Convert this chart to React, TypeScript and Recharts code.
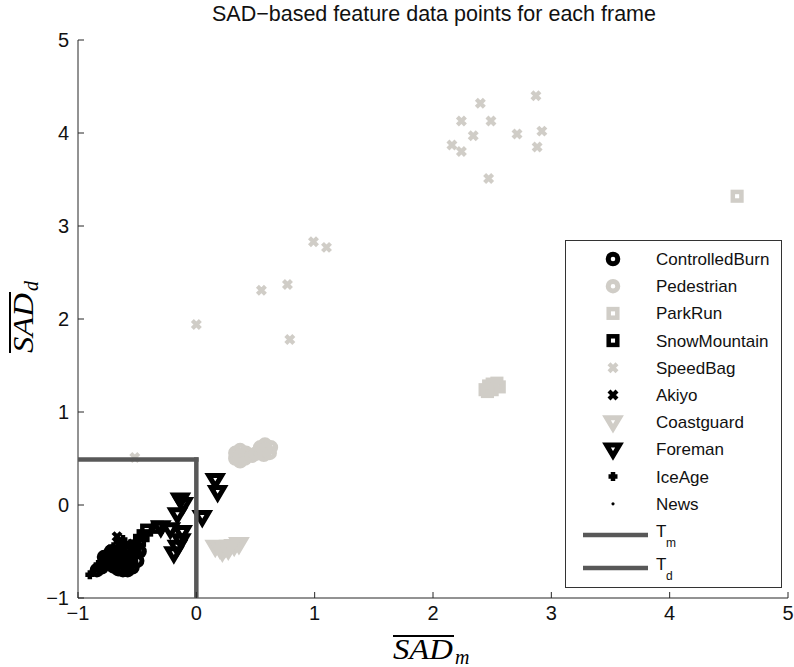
import { ScatterChart, Scatter, XAxis, YAxis } from "recharts";

const xTicks = [-1, 0, 1, 2, 3, 4, 5];
const yTicks = [-1, 0, 1, 2, 3, 4, 5];

const controlledBurn = [
  { x: -0.84, y: -0.7 }, { x: -0.8, y: -0.67 }, { x: -0.76, y: -0.62 }, { x: -0.72, y: -0.62 },
  { x: -0.7, y: -0.66 }, { x: -0.66, y: -0.69 }, { x: -0.62, y: -0.7 }, { x: -0.58, y: -0.7 },
  { x: -0.54, y: -0.67 }, { x: -0.5, y: -0.6 }, { x: -0.52, y: -0.52 }, { x: -0.56, y: -0.48 },
  { x: -0.6, y: -0.47 }, { x: -0.64, y: -0.5 }, { x: -0.68, y: -0.55 }, { x: -0.62, y: -0.6 },
  { x: -0.57, y: -0.58 }, { x: -0.65, y: -0.58 }, { x: -0.6, y: -0.64 }, { x: -0.78, y: -0.56 },
  { x: -0.72, y: -0.5 }, { x: -0.55, y: -0.62 }, { x: -0.48, y: -0.5 },
];
const pedestrian = [
  { x: 0.33, y: 0.5 }, { x: 0.37, y: 0.47 }, { x: 0.41, y: 0.5 }, { x: 0.42, y: 0.56 },
  { x: 0.37, y: 0.59 }, { x: 0.33, y: 0.56 }, { x: 0.37, y: 0.53 }, { x: 0.53, y: 0.57 },
  { x: 0.57, y: 0.54 }, { x: 0.62, y: 0.56 }, { x: 0.63, y: 0.62 }, { x: 0.58, y: 0.65 },
  { x: 0.54, y: 0.62 }, { x: 0.58, y: 0.6 }, { x: 0.47, y: 0.53 }, { x: 0.5, y: 0.55 },
];
const parkRun = [
  { x: 2.44, y: 1.24 }, { x: 2.47, y: 1.28 }, { x: 2.5, y: 1.3 }, { x: 2.54, y: 1.31 },
  { x: 2.56, y: 1.27 }, { x: 2.5, y: 1.24 }, { x: 2.46, y: 1.22 }, { x: 4.57, y: 3.32 },
];
const snowMountain = [
  { x: -0.42, y: -0.27 }, { x: -0.33, y: -0.24 }, { x: -0.48, y: -0.38 },
  { x: -0.52, y: -0.44 }, { x: -0.45, y: -0.33 },
];
const speedBag = [
  { x: 0, y: 1.94 }, { x: 0.55, y: 2.31 }, { x: 0.77, y: 2.37 }, { x: 0.79, y: 1.78 },
  { x: 0.99, y: 2.83 }, { x: 1.1, y: 2.77 }, { x: 2.16, y: 3.87 }, { x: 2.24, y: 3.8 },
  { x: 2.4, y: 4.32 }, { x: 2.24, y: 4.13 }, { x: 2.34, y: 3.97 }, { x: 2.49, y: 4.13 },
  { x: 2.47, y: 3.51 }, { x: 2.71, y: 3.99 }, { x: 2.87, y: 4.4 }, { x: 2.92, y: 4.02 },
  { x: 2.88, y: 3.85 }, { x: -0.52, y: 0.51 },
];
const akiyo = [{ x: -0.67, y: -0.34 }, { x: -0.72, y: -0.48 }, { x: -0.58, y: -0.42 }];
const coastguard = [
  { x: 0.16, y: -0.45 }, { x: 0.2, y: -0.47 }, { x: 0.24, y: -0.46 }, { x: 0.28, y: -0.45 },
  { x: 0.32, y: -0.44 }, { x: 0.36, y: -0.42 }, { x: 0.22, y: -0.5 }, { x: 0.27, y: -0.48 },
];
const foreman = [
  { x: -0.135, y: 0.06 }, { x: -0.11, y: 0.01 }, { x: -0.16, y: -0.1 }, { x: 0.05, y: -0.13 },
  { x: 0.16, y: 0.27 }, { x: 0.18, y: 0.14 }, { x: -0.3, y: -0.24 }, { x: -0.22, y: -0.26 },
  { x: -0.12, y: -0.29 }, { x: -0.16, y: -0.45 }, { x: -0.19, y: -0.52 }, { x: -0.13, y: -0.38 },
];
const iceAge = [
  { x: -0.9, y: -0.75 }, { x: -0.86, y: -0.7 }, { x: -0.83, y: -0.64 }, { x: -0.79, y: -0.58 },
  { x: -0.75, y: -0.53 }, { x: -0.7, y: -0.45 }, { x: -0.66, y: -0.4 }, { x: -0.62, y: -0.37 },
];
const news = [{ x: -0.62, y: -0.5 }, { x: -0.4, y: -0.3 }, { x: -0.15, y: -0.05 }];

const tmLine = [{ x: -1, y: 0.49 }, { x: 0, y: 0.49 }];
const tdLine = [{ x: 0, y: -1 }, { x: 0, y: 0.49 }];

const BLACK = "#000000";
const GRAY = "#d0cdc7";
const LINE = "#585858";
const AXIS = "#262626";
const SANS = "'Liberation Sans', Arial, sans-serif";
const SERIF = "'Liberation Serif', 'Times New Roman', serif";

type Kind = "circle" | "square" | "x" | "tri" | "plus" | "dot";

const series: { name: string; data: { x: number; y: number }[]; kind: Kind; color: string }[] = [
  { name: "ControlledBurn", data: controlledBurn, kind: "circle", color: BLACK },
  { name: "Pedestrian", data: pedestrian, kind: "circle", color: GRAY },
  { name: "ParkRun", data: parkRun, kind: "square", color: GRAY },
  { name: "SnowMountain", data: snowMountain, kind: "square", color: BLACK },
  { name: "SpeedBag", data: speedBag, kind: "x", color: GRAY },
  { name: "Akiyo", data: akiyo, kind: "x", color: BLACK },
  { name: "Coastguard", data: coastguard, kind: "tri", color: GRAY },
  { name: "Foreman", data: foreman, kind: "tri", color: BLACK },
  { name: "IceAge", data: iceAge, kind: "plus", color: BLACK },
  { name: "News", data: news, kind: "dot", color: BLACK },
];

function Glyph({ kind, color, cx, cy }: { kind: Kind; color: string; cx: number; cy: number }) {
  if (kind === "circle")
    return <circle cx={cx} cy={cy} r={4.8} fill="none" stroke={color} strokeWidth={5} />;
  if (kind === "square")
    return <rect x={cx - 4.3} y={cy - 4.3} width={8.6} height={8.6} fill="none" stroke={color} strokeWidth={4.5} />;
  if (kind === "x")
    return (
      <path
        d={`M${cx - 4},${cy - 4}L${cx + 4},${cy + 4}M${cx + 4},${cy - 4}L${cx - 4},${cy + 4}`}
        stroke={color}
        strokeWidth={4.2}
      />
    );
  if (kind === "tri")
    return (
      <polygon
        points={`${cx - 6.5},${cy - 4.5} ${cx + 6.5},${cy - 4.5} ${cx},${cy + 6.5}`}
        fill="none"
        stroke={color}
        strokeWidth={5}
        strokeLinejoin="miter"
      />
    );
  if (kind === "plus")
    return (
      <path
        d={`M${cx - 4.5},${cy}L${cx + 4.5},${cy}M${cx},${cy - 4.5}L${cx},${cy + 4.5}`}
        stroke={color}
        strokeWidth={4.5}
      />
    );
  return <circle cx={cx} cy={cy} r={1.6} fill={color} />;
}

const fmt = (v: number) => String(v).replace("-", "\u2212");

const XTick = (props: any) => {
  const { x, y, payload } = props;
  return (
    <g>
      <line x1={x} x2={x} y1={y} y2={y - 6} stroke={AXIS} />
      <text x={x} y={y + 22} textAnchor="middle" fontFamily={SANS} fontSize={20} fill="#111">
        {fmt(payload.value)}
      </text>
    </g>
  );
};

const YTick = (props: any) => {
  const { x, y, payload } = props;
  return (
    <g>
      <line x1={x} x2={x + 6} y1={y} y2={y} stroke={AXIS} />
      <text x={x - 9} y={y + 7} textAnchor="end" fontFamily={SANS} fontSize={20} fill="#111">
        {fmt(payload.value)}
      </text>
    </g>
  );
};

const LegendBox = () => {
  const rowY = (i: number) => 19 + i * 27.2;
  return (
    <svg width={217} height={348} style={{ position: "absolute", left: 565, top: 240 }}>
      <rect x={0.5} y={0.5} width={216} height={347} fill="#fff" stroke="#333" />
      {series.map((s, i) => (
        <g key={s.name}>
          <Glyph kind={s.kind} color={s.color} cx={48} cy={rowY(i)} />
          <text x={91} y={rowY(i) + 6} fontFamily={SANS} fontSize={17} fill="#111">
            {s.name}
          </text>
        </g>
      ))}
      {["m", "d"].map((sub, i) => {
        const cy = 295 + i * 33;
        return (
          <g key={sub}>
            <line x1={18} x2={83} y1={cy} y2={cy} stroke={LINE} strokeWidth={4.5} />
            <text x={91} y={cy + 2} fontFamily={SANS} fontSize={17} fill="#111">
              T
            </text>
            <text x={101} y={cy + 12} fontFamily={SANS} fontSize={12} fill="#111">
              {sub}
            </text>
          </g>
        );
      })}
    </svg>
  );
};

export default function App() {
  return (
    <div style={{ position: "absolute", left: 0, top: 0, width: 794, height: 667, background: "#fff" }}>
      <ScatterChart width={794} height={667} margin={{ top: 40, right: 6, bottom: 0, left: 0 }}>
        <XAxis
          type="number"
          dataKey="x"
          domain={[-1, 5]}
          ticks={xTicks}
          height={69}
          tickSize={0}
          tickMargin={0}
          tickLine={false}
          tick={<XTick />}
          axisLine={{ stroke: AXIS }}
          allowDataOverflow
        />
        <YAxis
          type="number"
          dataKey="y"
          domain={[-1, 5]}
          ticks={yTicks}
          width={78}
          tickSize={0}
          tickMargin={0}
          tickLine={false}
          tick={<YTick />}
          axisLine={{ stroke: AXIS }}
          allowDataOverflow
        />
        {series.map((s) => (
          <Scatter
            key={s.name}
            name={s.name}
            data={s.data}
            isAnimationActive={false}
            shape={(p: any) => <Glyph kind={s.kind} color={s.color} cx={p.cx} cy={p.cy} />}
          />
        ))}
        <Scatter
          name="Tm"
          data={tmLine}
          isAnimationActive={false}
          line={{ stroke: LINE, strokeWidth: 4.5, strokeLinecap: "square" }}
          shape={() => <g />}
        />
        <Scatter
          name="Td"
          data={tdLine}
          isAnimationActive={false}
          line={{ stroke: LINE, strokeWidth: 4.5, strokeLinecap: "square" }}
          shape={() => <g />}
        />
      </ScatterChart>
      <LegendBox />
      <svg
        width={794}
        height={667}
        style={{ position: "absolute", left: 0, top: 0, pointerEvents: "none" }}
      >
        <text x={434} y={21} textAnchor="middle" fontFamily={SANS} fontSize={21.5} fill="#111">
          SAD−based feature data points for each frame
        </text>
        <line x1={393} x2={454} y1={636} y2={636} stroke="#000" strokeWidth={2} />
        <text x={393} y={659} fontFamily={SERIF} fontStyle="italic" fontSize={30} fill="#000" textLength={60} lengthAdjust="spacingAndGlyphs">
          SAD
        </text>
        <text x={455} y={664} fontFamily={SERIF} fontStyle="italic" fontSize={20} fill="#000">
          m
        </text>
        <g transform="translate(33,353) rotate(-90)">
          <line x1={0} x2={61} y1={-23} y2={-23} stroke="#000" strokeWidth={2} />
          <text x={0} y={0} fontFamily={SERIF} fontStyle="italic" fontSize={30} fill="#000" textLength={60} lengthAdjust="spacingAndGlyphs">
            SAD
          </text>
          <text x={62} y={5} fontFamily={SERIF} fontStyle="italic" fontSize={20} fill="#000">
            d
          </text>
        </g>
      </svg>
    </div>
  );
}
